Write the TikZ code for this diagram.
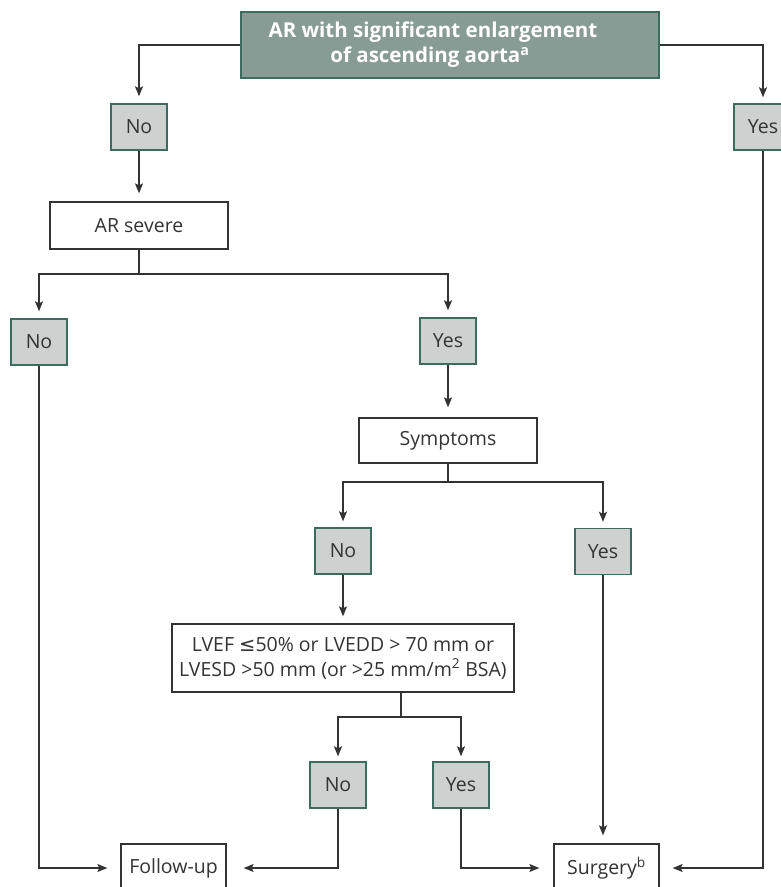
\documentclass[tikz,border=0pt]{standalone}
\usepackage{fontspec}
\setmainfont{Open Sans}
\newfontfamily\symfont{DejaVu Sans}
\usetikzlibrary{arrows.meta}
\definecolor{topfill}{HTML}{889C95}
\definecolor{greenedge}{HTML}{3E6B5F}
\definecolor{grayfill}{HTML}{CDD1D0}
\definecolor{ink}{HTML}{333333}
\tikzset{
  x=1pt, y=-1pt,
  every node/.style={font=\fontsize{19.5}{25}\selectfont, text=ink, inner sep=0pt},
  topbox/.style={draw=greenedge, fill=topfill, line width=1.5pt, minimum width=418pt, minimum height=66pt, text=white, align=center, font=\fontsize{20.5}{25}\selectfont\bfseries},
  ansbox/.style={draw=greenedge, fill=grayfill, line width=1.4pt, minimum width=56pt, minimum height=46pt},
  whitebox/.style={draw=ink, fill=white, line width=1.3pt, minimum height=47pt},
  conn/.style={draw=ink, line width=1.3pt},
  arr/.style={conn, -{Stealth[length=10pt,width=8pt,inset=2pt]}},
}
\begin{document}
\begin{tikzpicture}
\useasboundingbox (0,0) rectangle (781,887);
\node[topbox] (top) at (450,45) {AR with significant enlargement\hspace*{34pt}\\of ascending aorta\textsuperscript{a}\hspace*{40pt}};
\node[ansbox] (no1) at (139,127) {No};
\node[ansbox, minimum width=58pt] (yes1) at (763,127) {Yes};
\node[whitebox, minimum width=178pt] (arsev) at (139,225.5) {AR severe};
\node[ansbox] (no2) at (39,342) {No};
\node[ansbox] (yes2) at (448,341) {Yes};
\node[whitebox, minimum width=178pt, minimum height=45pt] (sym) at (448,440.5) {Symptoms};
\node[ansbox] (no3) at (343,551) {No};
\node[ansbox] (yes3) at (603,551.5) {Yes};
\node[whitebox, minimum width=342pt, minimum height=68pt, align=center] (lvef) at (343,658) {LVEF {\symfont ≤}50\% or LVEDD > 70 mm or\\LVESD >50 mm (or >25 mm/m\textsuperscript{2} BSA)};
\node[ansbox] (no4) at (338,785) {No};
\node[ansbox] (yes4) at (461,785) {Yes};
\node[whitebox, minimum width=105pt, minimum height=48pt] (follow) at (173.5,868) {Follow-up};
\node[whitebox, minimum width=105pt, minimum height=48pt] (surg) at (606.5,868) {Surgery\textsuperscript{b}};
\coordinate (j1) at (139,274);
\coordinate (j2) at (448,482);
\coordinate (j3) at (401,717);
% connectors
\draw[arr, shorten >=7pt] (top.west) -| (no1.north);
\draw[arr, shorten >=6pt] (top.east) -| (yes1.north);
\draw[arr, shorten >=8pt] (no1.south) -- (arsev.north);
\draw[conn] (arsev.south) -- (j1);
\draw[arr, shorten >=7pt] (j1) -| (no2.north);
\draw[arr, shorten >=7pt] (j1) -| (yes2.north);
\draw[arr, shorten >=10pt] (yes2.south) -- (sym.north);
\draw[conn] (sym.south) -- (j2);
\draw[arr, shorten >=6pt] (j2) -| (no3.north);
\draw[arr, shorten >=6pt] (j2) -| (yes3.north);
\draw[arr, shorten >=7pt] (no3.south) -- (lvef.north);
\draw[conn] (j3 |- lvef.south) -- (j3);
\draw[arr, shorten >=5pt] (j3) -| (no4.north);
\draw[arr, shorten >=5pt] (j3) -| (yes4.north);
\draw[arr, shorten >=13pt] (no2.south) |- (follow.west);
\draw[arr, shorten >=17pt] (no4.south) |- (follow.east);
\draw[arr, shorten >=14pt] (yes4.south) |- (surg.west);
\draw[arr, shorten >=8pt] (yes3.south) -- (yes3.south |- surg.north);
\draw[arr, shorten >=13pt] (yes1.south) |- (surg.east);
\end{tikzpicture}
\end{document}
